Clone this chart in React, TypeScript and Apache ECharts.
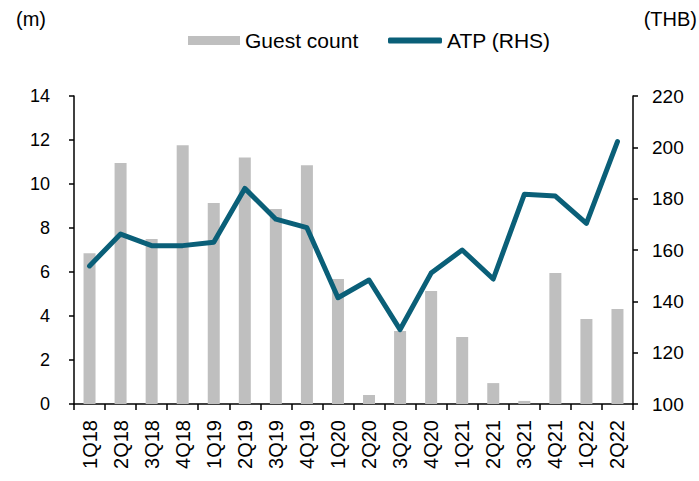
import React, { useEffect, useRef } from "react";
import * as echarts from "echarts";

const categories = ["1Q18","2Q18","3Q18","4Q18","1Q19","2Q19","3Q19","4Q19","1Q20","2Q20","3Q20","4Q20","1Q21","2Q21","3Q21","4Q21","1Q22","2Q22"];
const guestCount = [6.85,10.95,7.5,11.76,9.14,11.21,8.86,10.85,5.68,0.41,3.32,5.14,3.05,0.95,0.14,5.95,3.86,4.32];
const atp = [153.8,166.2,161.7,161.7,163,184,172,168.7,141.4,148.3,129,151,160,148.7,181.7,181,170.4,202.2];
const leftTicks = { min: 0, max: 14, interval: 2 };
const rightTicks = { min: 100, max: 220, interval: 20 };

const FONT = "'Liberation Sans', Arial, sans-serif";
const LINE_COLOR = "#0A5F78";

export default function App() {
  const ref = useRef<HTMLDivElement>(null);
  useEffect(() => {
    const chart = echarts.init(ref.current!, null, { renderer: "svg" });
    chart.setOption({
      animation: false,
      textStyle: { fontFamily: FONT, color: "#000" },
      grid: { left: 74, right: 66, top: 96, bottom: 77, containLabel: false },
      legend: [
        {
          left: 183,
          top: 25,
          itemWidth: 52,
          itemHeight: 9,
          itemGap: 7,
          textStyle: { fontFamily: FONT, fontSize: 21, color: "#000", padding: [0, 0, 0, 0] },
          data: [{ name: "Guest count", icon: "rect" }],
        },
        {
          left: 383,
          top: 25,
          itemWidth: 54,
          itemHeight: 6,
          textStyle: { fontFamily: FONT, fontSize: 21, color: "#000", padding: [0, 0, 0, 0] },
          data: [{ name: "ATP (RHS)", icon: "roundRect", itemStyle: { color: LINE_COLOR } }],
        },
      ],
      graphic: [
        { type: "text", left: 16, top: 9, style: { text: "(m)", font: `20px ${FONT}`, fill: "#000" } },
        { type: "text", right: 2, top: 9, style: { text: "(THB)", font: `20px ${FONT}`, fill: "#000" } },
      ],
      xAxis: {
        type: "category",
        data: categories,
        axisLine: { lineStyle: { color: "#000", width: 1.5 } },
        axisTick: { show: true, length: 6, lineStyle: { color: "#000", width: 1.5 } },
        axisLabel: { rotate: 90, fontSize: 20, color: "#000", margin: 16, fontFamily: FONT, interval: 0 },
      },
      yAxis: [
        {
          type: "value",
          ...leftTicks,
          axisLine: { show: true, lineStyle: { color: "#000", width: 1.5 } },
          axisTick: { show: true, length: 5, lineStyle: { color: "#000", width: 1.5 } },
          splitLine: { show: false },
          axisLabel: { fontSize: 18, color: "#000", margin: 24, fontFamily: FONT },
        },
        {
          type: "value",
          ...rightTicks,
          position: "right",
          axisLine: { show: true, lineStyle: { color: "#000", width: 1.5 } },
          axisTick: { show: true, length: 5, lineStyle: { color: "#000", width: 1.5 } },
          splitLine: { show: false },
          axisLabel: { fontSize: 19, color: "#000", margin: 19, fontFamily: FONT },
        },
      ],
      series: [
        {
          name: "Guest count",
          type: "bar",
          data: guestCount,
          barWidth: 12,
          itemStyle: { color: "#BFBFBF" },
          yAxisIndex: 0,
        },
        {
          name: "ATP (RHS)",
          type: "line",
          data: atp,
          yAxisIndex: 1,
          symbol: "none",
          lineStyle: { color: LINE_COLOR, width: 5, cap: "round", join: "round" },
          itemStyle: { color: LINE_COLOR },
        },
      ],
    });
    return () => chart.dispose();
  }, []);
  return <div ref={ref} style={{ width: 699, height: 481, position: "absolute", left: 0, top: 0 }} />;
}
